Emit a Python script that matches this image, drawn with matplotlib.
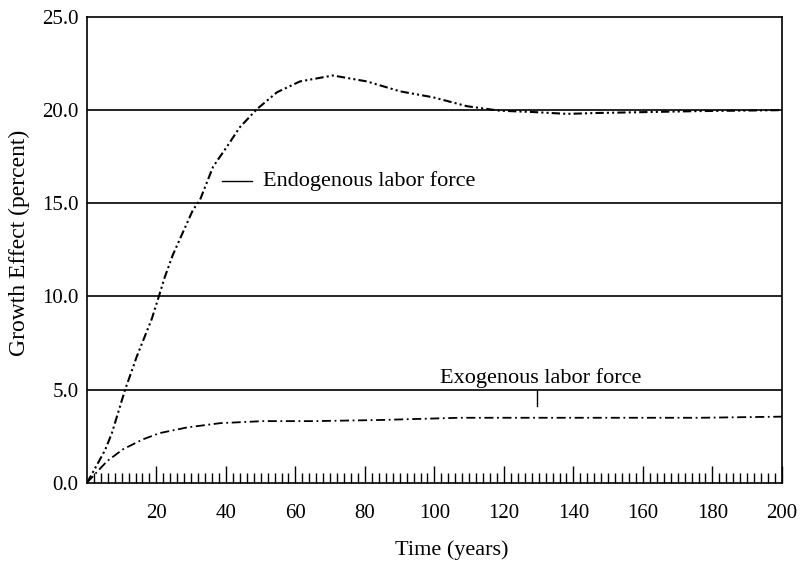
import matplotlib
matplotlib.use("Agg")
import matplotlib.pyplot as plt
import numpy as np

# values
endo_t = [0, 0.9, 5.2, 7.2, 10.9, 14.4, 18.7, 20.7, 22.4, 24.7, 30.5, 32.5, 36.3,
          40.3, 44.0, 48.9, 54.7, 61.3, 70.8, 80.6, 90.1, 99.6, 109.4, 118.8,
          128.3, 138.1, 147.6, 162.0, 176.4, 200.0]
endo_g = [0, 0.29, 1.74, 2.67, 4.94, 6.80, 8.81, 10.0, 11.03, 12.22, 14.64, 15.16,
          16.96, 18.04, 19.08, 20.05, 20.96, 21.54, 21.86, 21.54, 21.01, 20.69,
          20.21, 19.97, 19.90, 19.80, 19.85, 19.90, 19.95, 20.0]

exo_t = [0, 2.9, 5.8, 10.4, 16.1, 21.0, 28.8, 38.3, 50.6, 65.0, 84.3, 107.3,
         130.4, 153.4, 176.4, 200.0]
exo_g = [0, 0.58, 1.16, 1.80, 2.33, 2.67, 2.97, 3.20, 3.31, 3.31, 3.37, 3.49,
         3.49, 3.49, 3.49, 3.55]

grid_levels = [5, 10, 15, 20]
y_ticks = [0, 5, 10, 15, 20, 25]
x_ticks = [20, 40, 60, 80, 100, 120, 140, 160, 180, 200]

plt.rcParams["font.family"] = ["Liberation Serif", "DejaVu Serif"]

fig = plt.figure(figsize=(8.12, 5.66), dpi=100)
ax = fig.add_axes([0.107, 0.147, 0.856, 0.823])

for lvl in grid_levels:
    ax.axhline(lvl, color="black", linewidth=1.2, zorder=1)

ax.plot(endo_t, endo_g, color="black", linewidth=1.5,
        dashes=(4, 1.5, 1, 1.5, 1, 1.5), zorder=3)
ax.plot(exo_t, exo_g, color="black", linewidth=1.3,
        dashes=(5, 2, 1, 2), zorder=3)

# labels for the two curves
ax.plot([38.8, 47.5], [16.2, 16.2], color="black", linewidth=1.0)
ax.text(50.6, 16.2, "Endogenous labor force", fontsize=16, va="center", ha="left")
ax.plot([129.5, 129.5], [5.0, 4.1], color="black", linewidth=1.0)
ax.text(130.5, 5.38, "Exogenous labor force", fontsize=16, va="baseline", ha="center")

ax.set_xlim(0, 200)
ax.set_ylim(0, 25)
ax.set_yticks(y_ticks)
ax.set_yticklabels([f"{v:.1f}" for v in y_ticks])
ax.set_xticks(x_ticks)
ax.set_xticks(np.arange(2, 200, 2), minor=True)
ax.tick_params(axis="y", length=0, labelsize=15, pad=6)
ax.tick_params(axis="x", which="major", direction="in", length=12, width=1.0,
               labelsize=15, pad=15)
ax.tick_params(axis="x", which="minor", direction="in", length=7, width=1.0)

for s in ax.spines.values():
    s.set_linewidth(1.2)

ax.set_xlabel("Time (years)", fontsize=16, labelpad=13, x=0.525)
ax.set_ylabel("Growth Effect (percent)", fontsize=17, labelpad=9, y=0.515)

fig.savefig("out.png", dpi=100)
